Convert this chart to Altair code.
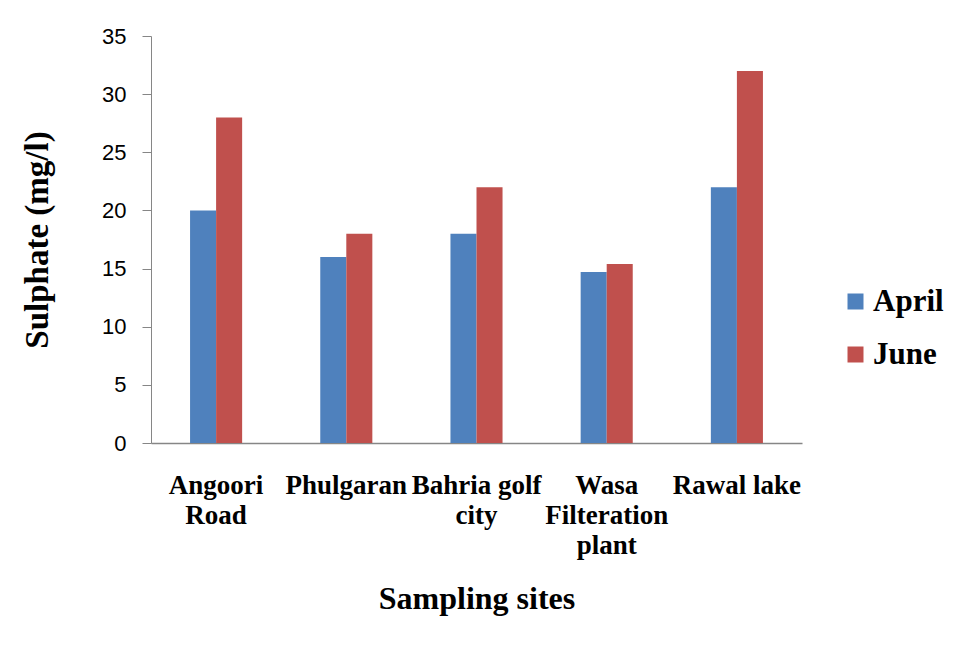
import altair as alt
import pandas as pd

sites = ["Angoori Road", "Phulgaran", "Bahria golf city", "Wasa Filteration plant", "Rawal lake"]
site_lines = ["Angoori|Road", "Phulgaran", "Bahria golf|city", "Wasa|Filteration|plant", "Rawal lake"]
april = [20, 16, 18, 14.7, 22]
june = [28, 18, 22, 15.4, 32]
months = ["April", "June"]
colors = ["#4F81BD", "#C0504D"]

rows = []
for s, a, j in zip(sites, april, june):
    rows.append({"site": s, "month": "April", "value": a})
    rows.append({"site": s, "month": "June", "value": j})
df = pd.DataFrame(rows)

label_map = "{" + ", ".join(f"'{s}': '{l}'" for s, l in zip(sites, site_lines)) + "}"
label_expr = f"split({label_map}[datum.label], '|')"

serif = "Liberation Serif"

chart = alt.Chart(df).mark_bar().encode(
    x=alt.X("site:N", sort=sites,
            scale=alt.Scale(paddingInner=0.6, paddingOuter=0.3),
            axis=alt.Axis(title="Sampling sites", labelAngle=0, ticks=False, tickSize=0,
                          labelExpr=label_expr, labelFont=serif, labelFontWeight="bold",
                          labelFontSize=27, labelLineHeight=30, labelPadding=29,
                          labelColor="black", domainColor="#868686", domainWidth=1.5,
                          titleFont=serif, titleFontWeight="bold", titleFontSize=32,
                          titleColor="black", titleX=325.5, titleY=155,
                          titleBaseline="middle", titleAlign="center")),
    xOffset=alt.XOffset("month:N", sort=months),
    y=alt.Y("value:Q", scale=alt.Scale(domain=[0, 35], nice=False),
            axis=alt.Axis(title="Sulphate (mg/l)", values=[0, 5, 10, 15, 20, 25, 30, 35],
                          grid=False, tickSize=9, tickColor="#868686", domainColor="#868686",
                          labelFont="Liberation Sans", labelFontSize=22, labelPadding=16,
                          labelColor="black",
                          titleFont=serif, titleFontWeight="bold", titleFontSize=33,
                          titleColor="black", titleX=-114, titleY=203.5, titleAngle=-90,
                          titleBaseline="middle", titleAlign="center")),
    color=alt.Color("month:N", sort=months,
                    scale=alt.Scale(domain=months, range=colors),
                    legend=alt.Legend(title=None, orient="none", legendX=689, legendY=250,
                                      symbolType="square", symbolSize=256,
                                      symbolStrokeWidth=0, labelFont=serif,
                                      labelFontWeight="bold", labelFontSize=31,
                                      labelColor="black", labelOffset=2, rowPadding=21,
                                      padding=0)),
).properties(
    width=651, height=407,
    autosize=alt.AutoSizeParams(type="none"),
    padding={"left": 143, "top": 28, "right": 146, "bottom": 180},
).configure_view(stroke=None)

chart.save("out.html", embed_options={"renderer": "svg", "actions": False})
